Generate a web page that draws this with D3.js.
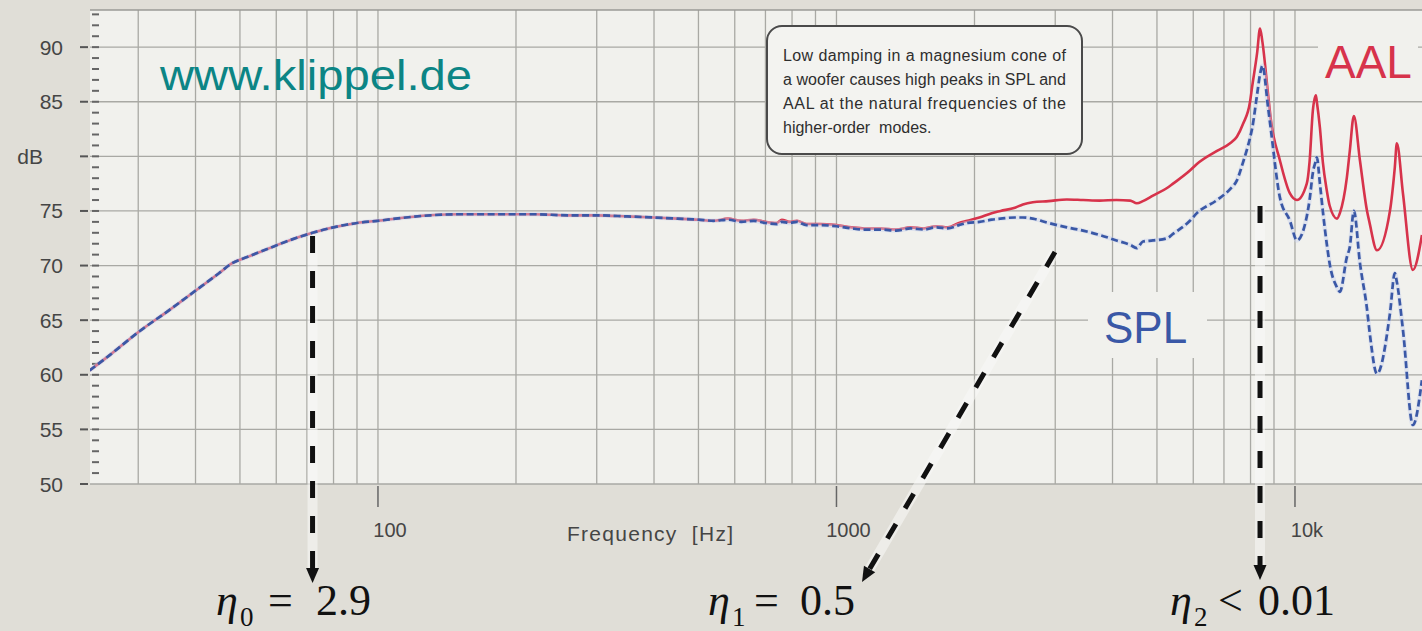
<!DOCTYPE html>
<html>
<head>
<meta charset="utf-8">
<script src="https://cdn.jsdelivr.net/npm/d3@7"></script>
<style>
  html, body { margin: 0; padding: 0; background: #e0ded7; }
  svg { display: block; }
  text { font-family: "Liberation Sans", Arial, sans-serif; }
  .serif { font-family: "Liberation Serif", "Times New Roman", serif; }
</style>
</head>
<body>
<svg id="chart" width="1422" height="631"></svg>
<script>
// Frequency points (Hz) shared by both curves
const freq = [23.5, 26, 30, 35, 40, 45, 48, 52, 58, 65, 72, 80, 90, 100, 115, 130, 150, 180, 220, 260, 300, 350, 400, 450, 500, 540, 580, 620, 660, 700, 740, 760, 790, 820, 860, 920, 1000, 1080, 1150, 1250, 1350, 1450, 1550, 1650, 1750, 1850, 1930, 2050, 2180, 2280, 2450, 2550, 2680, 2900, 3180, 3450, 3750, 4080, 4370, 4520, 4660, 4900, 5260, 5420, 5900, 6110, 6760, 7220, 7470, 7710, 7980, 8060, 8270, 8390, 8490, 8735, 8850, 9275, 9750, 10100, 10610, 10760, 10940, 11106, 11160, 11335, 11500, 11730, 11900, 12350, 12530, 12980, 13170, 13440, 13860, 14360, 14530, 15100, 16110, 16510, 16680, 17200, 18080, 18920];

// Acceleration level (AAL), dB
const aal = [60.4, 61.8, 63.9, 65.9, 67.7, 69.3, 70.2, 70.8, 71.6, 72.4, 73.0, 73.5, 73.9, 74.1, 74.4, 74.6, 74.7, 74.7, 74.7, 74.6, 74.6, 74.5, 74.4, 74.3, 74.2, 74.1, 74.3, 74.1, 74.2, 74.0, 73.9, 74.2, 74.0, 74.1, 73.8, 73.8, 73.7, 73.5, 73.4, 73.4, 73.3, 73.5, 73.4, 73.6, 73.5, 73.9, 74.1, 74.4, 74.8, 75.0, 75.3, 75.6, 75.8, 75.9, 76.05, 76.0, 75.95, 76.0, 75.95, 75.7, 75.9, 76.4, 77.1, 77.5, 78.7, 79.3, 80.5, 81.2, 81.8, 83.0, 85.0, 86.3, 89.5, 91.7, 90.5, 85.7, 83.5, 79.6, 76.6, 76.0, 77.5, 79.5, 84.2, 85.6, 85.0, 82.6, 79.5, 76.9, 75.5, 74.3, 74.8, 78.1, 80.5, 83.7, 79.6, 75.0, 74.0, 71.4, 75.0, 79.0, 81.2, 76.6, 69.6, 72.8];

// Sound pressure level (SPL), dB
const spl = [60.4, 61.8, 63.9, 65.9, 67.7, 69.3, 70.2, 70.8, 71.6, 72.4, 73.0, 73.5, 73.9, 74.1, 74.4, 74.6, 74.7, 74.7, 74.7, 74.6, 74.6, 74.5, 74.4, 74.3, 74.2, 74.1, 74.2, 74.0, 74.1, 73.9, 73.8, 74.0, 73.9, 74.0, 73.7, 73.7, 73.6, 73.4, 73.3, 73.3, 73.2, 73.4, 73.3, 73.5, 73.4, 73.7, 73.9, 74.0, 74.2, 74.3, 74.4, 74.4, 74.3, 73.9, 73.5, 73.2, 72.8, 72.3, 71.9, 71.6, 72.2, 72.3, 72.5, 72.9, 74.1, 74.8, 76.0, 77.0, 77.8, 79.5, 81.7, 82.5, 85.7, 87.5, 88.3, 84.5, 82.6, 76.2, 74.1, 72.3, 74.5, 76.0, 78.5, 79.6, 79.9, 77.5, 75.0, 72.0, 70.2, 68.0, 67.6, 70.8, 71.7, 75.0, 70.2, 66.0, 64.1, 60.1, 65.6, 69.3, 68.5, 64.1, 55.4, 59.5];

const yTicks = [50, 55, 60, 65, 70, 75, 80, 85, 90];
const yTickLabels = ["50", "55", "60", "65", "70", "75", "dB", "85", "90"];
const xTicks = [100, 1000, 10000];
const xTickLabels = ["100", "1000", "10k"];

const noteLines = [
  "Low damping in a magnesium cone of",
  "a woofer causes high peaks in SPL and",
  "AAL at the natural frequencies of the",
  "higher-order  modes."
];

// Loss factors marked under the curve
const lossFactors = [
  { sym: "η", sub: "0", rel: "=", val: "2.9", f: 72 },
  { sym: "η", sub: "1", rel: "=", val: "0.5", f: 2900 },
  { sym: "η", sub: "2", rel: "<", val: "0.01", f: 8390 }
];

const W = 1422, H = 631;
const plot = { left: 90, top: 10, right: W, bottom: 484 };

const x = d3.scaleLog().domain([23.5, 20000]).range([89.6, 1433]);
const y = d3.scaleLinear().domain([50, 93.4]).range([484, 10]);

const svg = d3.select("#chart");

svg.append("rect").attr("width", W).attr("height", H).attr("fill", "#e0ded7");
svg.append("rect")
  .attr("x", plot.left).attr("y", plot.top)
  .attr("width", plot.right - plot.left).attr("height", plot.bottom - plot.top)
  .attr("fill", "#f1f1ed");

// Grid
const grid = svg.append("g").attr("stroke", "#a9a9a4").attr("stroke-width", 1.3);
const minorFreqs = [];
for (let d = 10; d <= 10000; d *= 10) {
  for (let k = 1; k <= 9; k++) {
    const f = k * d;
    if (f > 23.5 && f < 20000) minorFreqs.push(f);
  }
}
grid.selectAll("line.v").data(minorFreqs).join("line")
  .attr("class", "v")
  .attr("x1", d => x(d)).attr("x2", d => x(d))
  .attr("y1", plot.top).attr("y2", plot.bottom);
grid.selectAll("line.h").data(yTicks).join("line")
  .attr("class", "h")
  .attr("x1", plot.left).attr("x2", plot.right)
  .attr("y1", d => y(d)).attr("y2", d => y(d));
grid.append("line")
  .attr("x1", plot.left).attr("x2", plot.right)
  .attr("y1", plot.top).attr("y2", plot.top)
  .attr("stroke", "#9a9a96");

// Y axis: major ticks outside, 1 dB minor ticks inside
const yAxis = svg.append("g");
yAxis.selectAll("line.maj").data(yTicks).join("line")
  .attr("class", "maj")
  .attr("x1", 80).attr("x2", 88)
  .attr("y1", d => y(d)).attr("y2", d => y(d))
  .attr("stroke", "#555").attr("stroke-width", 2);
yAxis.selectAll("line.min").data(d3.range(51, 94)).join("line")
  .attr("class", "min")
  .attr("x1", 92).attr("x2", 99)
  .attr("y1", d => y(d)).attr("y2", d => y(d))
  .attr("stroke", "#666").attr("stroke-width", 2);
yAxis.selectAll("text").data(yTicks).join("text")
  .attr("x", (d, i) => yTickLabels[i] === "dB" ? 43 : 63)
  .attr("y", d => y(d) + 7.5)
  .attr("text-anchor", "end")
  .attr("font-size", 21)
  .attr("fill", "#454545")
  .text((d, i) => yTickLabels[i]);

// X axis ticks and labels
const xAxis = svg.append("g");
xAxis.selectAll("line").data(xTicks).join("line")
  .attr("x1", d => x(d)).attr("x2", d => x(d))
  .attr("y1", 486).attr("y2", 507)
  .attr("stroke", "#666").attr("stroke-width", 1.5);
xAxis.selectAll("text").data(xTicks).join("text")
  .attr("x", d => x(d) + 12)
  .attr("y", 537)
  .attr("text-anchor", "middle")
  .attr("font-size", 20)
  .attr("fill", "#454545")
  .text((d, i) => xTickLabels[i]);
svg.append("text")
  .attr("x", 567).attr("y", 541)
  .attr("font-size", 21).attr("fill", "#454545")
  .attr("xml:space", "preserve")
  .style("white-space", "pre")
  .attr("textLength", 166).attr("lengthAdjust", "spacing")
  .text("Frequency  [Hz]");

// Watermark
svg.append("text")
  .attr("x", 160).attr("y", 90)
  .attr("font-size", 42).attr("fill", "#0c8585")
  .attr("textLength", 312).attr("lengthAdjust", "spacingAndGlyphs")
  .text("www.klippel.de");

// Curves
svg.append("clipPath").attr("id", "plotClip")
  .append("rect").attr("x", plot.left).attr("y", plot.top)
  .attr("width", plot.right - plot.left).attr("height", plot.bottom - plot.top);

const line = vals => d3.line()
  .x((d, i) => x(freq[i]))
  .y(d => y(d))
  .curve(d3.curveMonotoneX)(vals);

const curves = svg.append("g").attr("clip-path", "url(#plotClip)");
curves.append("path").attr("d", line(aal))
  .attr("fill", "none").attr("stroke", "#d7334b").attr("stroke-width", 2.6);
curves.append("path").attr("d", line(spl))
  .attr("fill", "none").attr("stroke", "#c9d3ee").attr("stroke-width", 4.5).attr("opacity", 0.45);
curves.append("path").attr("d", line(spl))
  .attr("fill", "none").attr("stroke", "#3a58a6").attr("stroke-width", 2.7)
  .attr("stroke-dasharray", "7,3.5");

// Series labels with background patches
svg.append("rect").attr("x", 1318).attr("y", 30).attr("width", 100).attr("height", 62).attr("fill", "#f1f1ed");
svg.append("text").attr("x", 1325).attr("y", 78)
  .attr("font-size", 46).attr("fill", "#d7334b").text("AAL");
svg.append("rect").attr("x", 1088).attr("y", 292).attr("width", 119).attr("height", 66).attr("fill", "#f1f1ed");
svg.append("text").attr("x", 1104).attr("y", 343)
  .attr("font-size", 44).attr("fill", "#3a58a6").text("SPL");

// Annotation box
svg.append("rect")
  .attr("x", 767).attr("y", 26).attr("width", 315).attr("height", 128)
  .attr("rx", 15)
  .attr("fill", "#f3f3f0").attr("stroke", "#4a4a4a").attr("stroke-width", 2);
svg.append("g").selectAll("text").data(noteLines).join("text")
  .attr("x", 783)
  .attr("y", (d, i) => 61 + i * 24)
  .attr("font-size", 16)
  .attr("fill", "#2e2e2e")
  .attr("xml:space", "preserve")
  .style("white-space", "pre")
  .attr("textLength", (d, i) => i < noteLines.length - 1 ? 283 : null)
  .attr("lengthAdjust", "spacing")
  .text(d => d);

// Dashed arrows from the curve to the loss factors
const arrows = [
  { x1: x(72), y1: 236, x2: x(72), y2: 583 },
  { x1: 1055, y1: 252, x2: 862, y2: 582 },
  { x1: x(8390), y1: 206, x2: x(8390), y2: 580 }
];
const arrowG = svg.append("g");
arrows.forEach(a => {
  const ang = Math.atan2(a.y2 - a.y1, a.x2 - a.x1);
  const headLen = 15, headW = 6.5;
  const bx = a.x2 - headLen * Math.cos(ang), by = a.y2 - headLen * Math.sin(ang);
  arrowG.append("line")
    .attr("x1", a.x1).attr("y1", a.y1).attr("x2", bx).attr("y2", by)
    .attr("stroke", "#fafaf8").attr("stroke-width", 10).attr("opacity", 0.55);
  arrowG.append("line")
    .attr("x1", a.x1).attr("y1", a.y1).attr("x2", bx).attr("y2", by)
    .attr("stroke", "#111").attr("stroke-width", 5)
    .attr("stroke-dasharray", "17,18");
  const px = -Math.sin(ang), py = Math.cos(ang);
  arrowG.append("path")
    .attr("d", `M${a.x2},${a.y2}L${bx + px * headW},${by + py * headW}L${bx - px * headW},${by - py * headW}Z`)
    .attr("fill", "#111");
});

// Loss factor labels
const lfPos = [
  { sym: 216, sub: 240, rel: 268, val: 316 },
  { sym: 708, sub: 732, rel: 754, val: 800 },
  { sym: 1170, sub: 1194, rel: 1218, val: 1258 }
];
const lfG = svg.append("g").attr("fill", "#111");
lossFactors.forEach((d, i) => {
  const p = lfPos[i];
  lfG.append("text").attr("class", "serif").attr("x", p.sym).attr("y", 615)
    .attr("font-size", 44).attr("font-style", "italic").text(d.sym);
  lfG.append("text").attr("class", "serif").attr("x", p.sub).attr("y", 626)
    .attr("font-size", 27).text(d.sub);
  lfG.append("text").attr("class", "serif").attr("x", p.rel).attr("y", 615)
    .attr("font-size", 44).text(d.rel);
  lfG.append("text").attr("class", "serif").attr("x", p.val).attr("y", 615)
    .attr("font-size", 44).text(d.val);
});
</script>
</body>
</html>
